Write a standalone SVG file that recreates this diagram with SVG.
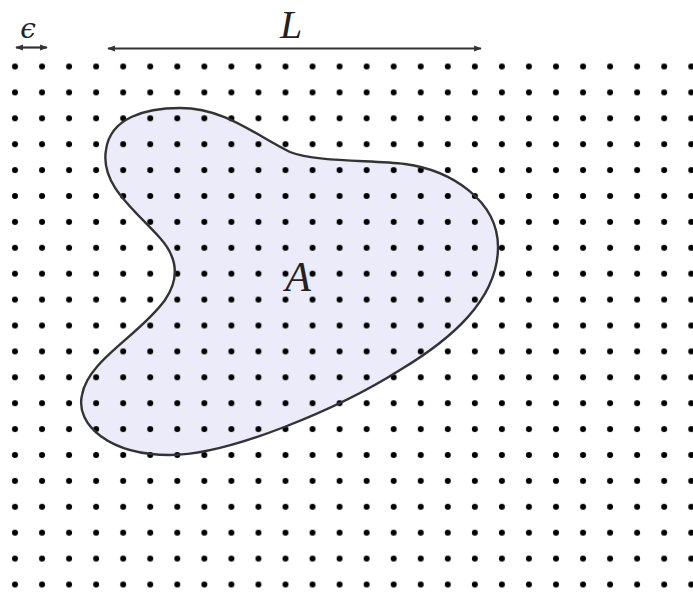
<svg xmlns="http://www.w3.org/2000/svg" xmlns:xlink="http://www.w3.org/1999/xlink" width="693" height="593" viewBox="0 0 693 593">
  <style>
    .lbl { font-family: "Liberation Serif", "Times New Roman", serif; font-style: italic; fill: #222; }
    .eps { font-family: "DejaVu Serif", "Liberation Serif", serif; font-style: italic; fill: #222; }
    .dim { stroke: #333; stroke-width: 2.2; fill: none; marker-start: url(#ahs); marker-end: url(#ahe); }
    .region { fill: #ebebfa; stroke: none; }
    .outline { fill: none; stroke: #333; stroke-width: 2.4; }
  </style>
  <defs>
    <marker id="ahe" viewBox="0 0 10 10" refX="9" refY="5" markerWidth="3.5" markerHeight="3.5" orient="auto" markerUnits="strokeWidth">
      <path d="M0,1 L10,5 L0,9 Z" fill="#333"/>
    </marker>
    <marker id="ahs" viewBox="0 0 10 10" refX="1" refY="5" markerWidth="3.5" markerHeight="3.5" orient="auto" markerUnits="strokeWidth">
      <path d="M10,1 L0,5 L10,9 Z" fill="#333"/>
    </marker>
    <pattern id="dots" patternUnits="userSpaceOnUse" x="1.475" y="53.55" width="27.05" height="25.9">
      <circle cx="13.525" cy="12.95" r="3" fill="#000"/>
    </pattern>
    <path id="shapeA" d="M180,108 C225,108 255,135 290,152 C315,162 370,160 405,164 C450,170 498,200 498,247 C498,300 450,340 400,370 C340,408 230,455 170,455 C110,455 75,425 82,395 C88,360 140,335 165,300 C180,278 178,258 160,238 C135,210 100,185 106,150 C110,118 145,108 180,108 Z"/>
  </defs>

  <rect x="0" y="0" width="693" height="593" fill="#ffffff"/>

  <g id="region-A">
    <use xlink:href="#shapeA" class="region"/>
  </g>

  <g id="lattice">
    <rect x="0" y="53.55" width="693" height="545" fill="url(#dots)"/>
  </g>

  <g id="region-A-outline">
    <use xlink:href="#shapeA" class="outline"/>
    <text class="lbl" x="298" y="291" font-size="42" text-anchor="middle">A</text>
  </g>

  <g id="connectors">
    <line id="eps-dim" class="dim" x1="16" y1="47.5" x2="47" y2="47.5"/>
    <line id="L-dim" class="dim" x1="108" y1="48.5" x2="481" y2="48.5"/>
  </g>

  <g id="labels">
    <text class="eps" x="28" y="38" font-size="28" text-anchor="middle">ϵ</text>
    <text class="lbl" x="291" y="38" font-size="40" text-anchor="middle">L</text>
  </g>
</svg>
